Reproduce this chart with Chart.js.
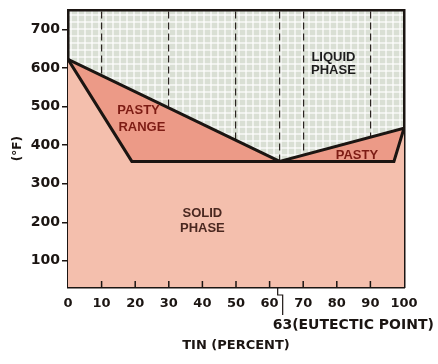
<!DOCTYPE html>
<html>
<head>
<meta charset="utf-8">
<script src="https://cdn.jsdelivr.net/npm/chart.js@4.4.0/dist/chart.umd.min.js"></script>
<style>
    html, body { margin: 0; padding: 0; background: #fff; }
    #phase { display: block; }
</style>
</head>
<body>
<canvas id="phase" width="438" height="364"></canvas>
<script>
var tinTicks = [0, 10, 20, 30, 40, 50, 60, 70, 80, 90, 100],
    tempTicks = [100, 200, 300, 400, 500, 600, 700],
    guideLines = [10, 30, 50, 63, 70, 90],
    liquidusTin = [0, 63, 100],
    liquidusTemp = [623, 358, 444],
    solidusTin = [0, 19, 97, 100],
    solidusTemp = [623, 358, 358, 444],
    eutecticTin = 63;

var ink = '#1b1512',
    tickFont = { family: 'DejaVu Sans', size: 13, weight: 'bold' },
    noteFont = 'bold 13px "Liberation Sans"';

// region names, placed in data units (tin %, deg F)
var notes = [
    { text: 'PASTY', x: 21, y: 491, color: '#7d1c14' },
    { text: 'RANGE', x: 22, y: 447, color: '#7d1c14' },
    { text: 'LIQUID', x: 79, y: 628, color: '#1d1d1d' },
    { text: 'PHASE', x: 79, y: 594, color: '#1d1d1d' },
    { text: 'PASTY', x: 86, y: 374, color: '#7d1c14' },
    { text: 'SOLID', x: 40, y: 222, color: '#4a2820' },
    { text: 'PHASE', x: 40, y: 183, color: '#4a2820' }
];

function toPoints(xs, ys) {
    var pts = [], i;
    for ( i = 0; i < xs.length; i++ ) {
        pts.push({ x: xs[i], y: ys[i] });
    }
    return pts;
}

// graph paper look for the liquid field
function paper(ctx) {
    var c = document.createElement('canvas'), g;
    c.width = 7;
    c.height = 7;
    g = c.getContext('2d');
    g.fillStyle = '#d9dfd4';
    g.fillRect(0, 0, 7, 7);
    g.fillStyle = 'rgba(255,255,255,0.6)';
    g.fillRect(0, 0, 7, 2);
    g.fillRect(0, 0, 2, 7);
    return ctx.createPattern(c, 'repeat');
}

var paperPlugin = {
    id: 'paper',
    beforeDraw: function(chart) {
        var a = chart.chartArea, ctx = chart.ctx;
        ctx.save();
        ctx.fillStyle = paper(ctx);
        ctx.fillRect(a.left, a.top, a.right - a.left, a.bottom - a.top);
        ctx.restore();
    }
};

var notesPlugin = {
    id: 'notes',
    afterDraw: function(chart) {
        var ctx = chart.ctx,
            xs = chart.scales.x,
            ys = chart.scales.y,
            bottom = chart.chartArea.bottom,
            i, px;

        ctx.save();

        // small ticks pointing up into the plot
        ctx.strokeStyle = ink;
        ctx.lineWidth = 1.5;
        for ( i = 1; i < tinTicks.length - 1; i++ ) {
            px = xs.getPixelForValue(tinTicks[i]);
            ctx.beginPath();
            ctx.moveTo(px, bottom);
            ctx.lineTo(px, bottom - 6);
            ctx.stroke();
        }

        ctx.font = noteFont;
        ctx.textAlign = 'center';
        ctx.textBaseline = 'middle';
        notes.forEach(function(n) {
            ctx.fillStyle = n.color;
            ctx.fillText(n.text, xs.getPixelForValue(n.x), ys.getPixelForValue(n.y));
        });

        // eutectic callout under the axis
        px = xs.getPixelForValue(eutecticTin);
        ctx.lineWidth = 1.2;
        ctx.beginPath();
        ctx.moveTo(px - 2, bottom);
        ctx.lineTo(px - 2, bottom + 8);
        ctx.lineTo(px + 3, bottom + 8);
        ctx.lineTo(px + 3, bottom + 28);
        ctx.stroke();

        ctx.fillStyle = ink;
        ctx.font = 'bold 14px "DejaVu Sans"';
        ctx.textAlign = 'left';
        ctx.fillText('63(EUTECTIC POINT)', px - 7, bottom + 38);
        ctx.restore();
    }
};

var chart = new Chart(document.getElementById('phase').getContext('2d'), {
    type: 'scatter',
    data: {
        datasets: [
            {
                label: 'Solidus',
                data: toPoints(solidusTin, solidusTemp),
                showLine: true,
                borderColor: ink,
                borderWidth: 3,
                backgroundColor: '#f4bfad',
                fill: 'start',
                pointRadius: 0
            },
            {
                label: 'Liquidus',
                data: toPoints(liquidusTin, liquidusTemp),
                showLine: true,
                borderColor: ink,
                borderWidth: 3,
                backgroundColor: '#ec9a87',
                fill: 'start',
                pointRadius: 0
            }
        ]
    },
    options: {
        responsive: false,
        animation: false,
        devicePixelRatio: 1,
        layout: { padding: { left: 0, right: 34, top: 10, bottom: 0 } },
        plugins: {
            legend: { display: false },
            tooltip: { enabled: false }
        },
        scales: {
            x: {
                type: 'linear',
                position: 'bottom',
                min: 0,
                max: 100,
                z: 1,
                afterBuildTicks: function(s) {
                    s.ticks = tinTicks.map(function(v) { return { value: v }; });
                },
                afterFit: function(s) { s.height = 77; },
                grid: { drawOnChartArea: false, drawTicks: false },
                border: { color: ink, width: 2.5 },
                ticks: { color: ink, font: tickFont, padding: 9, maxRotation: 0, autoSkip: false },
                title: {
                    display: true,
                    text: 'TIN (PERCENT)',
                    color: ink,
                    font: { family: 'DejaVu Sans', size: 13, weight: 'bold' },
                    padding: { top: 0, bottom: 11 }
                }
            },
            guide: {
                type: 'linear',
                position: 'top',
                min: 0,
                max: 100,
                z: 1,
                afterBuildTicks: function(s) {
                    s.ticks = guideLines.map(function(v) { return { value: v }; });
                },
                afterFit: function(s) { s.height = 0; },
                grid: { color: '#2b2421', lineWidth: 1.2, drawTicks: false },
                border: { color: ink, width: 2.5, dash: [7, 4] },
                ticks: { display: false }
            },
            y: {
                type: 'linear',
                min: 32,
                max: 750,
                z: 1,
                afterBuildTicks: function(s) {
                    s.ticks = tempTicks.map(function(v) { return { value: v }; });
                },
                afterFit: function(s) { s.width = 68; },
                grid: { drawOnChartArea: false, tickLength: 6, color: ink, lineWidth: 1.5 },
                border: { color: ink, width: 2.5 },
                ticks: { color: ink, font: { family: 'DejaVu Sans', size: 14, weight: 'bold' }, padding: 2 },
                title: {
                    display: true,
                    text: '(°F)',
                    color: ink,
                    font: { family: 'DejaVu Sans', size: 12, weight: 'bold' },
                    padding: { top: 11, bottom: 0 }
                }
            },
            right: {
                type: 'linear',
                position: 'right',
                min: 32,
                max: 750,
                z: 1,
                afterFit: function(s) { s.width = 0; },
                grid: { display: false },
                border: { color: ink, width: 2.5 },
                ticks: { display: false }
            }
        }
    },
    plugins: [paperPlugin, notesPlugin]
});
</script>
</body>
</html>
